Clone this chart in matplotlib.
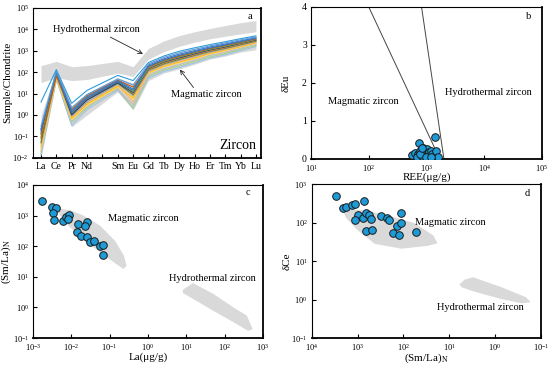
import numpy as np
import matplotlib
matplotlib.use("Agg")
import matplotlib.pyplot as plt

plt.rcParams["font.family"] = ["Liberation Serif", "DejaVu Serif"]
plt.rcParams["mathtext.fontset"] = "stix"

# ---- panel a: chondrite-normalised REE patterns ----
ree = ["La", "Ce", "Pr", "Nd", "", "Sm", "Eu", "Gd", "Tb", "Dy", "Ho", "Er", "Tm", "Yb", "Lu"]
ree_pos = [0, 1, 2, 3, 5, 6, 7, 8, 9, 10, 11, 12, 13, 14]

s01 = [4.0, 130, 3.5, 14, 70, 40, 280, 560, 930, 1350, 1900, 2600, 3600, 4900]
s11 = [0.3, 110, 2.2, 9.0, 48, 25, 240, 480, 790, 1150, 1650, 2290, 3160, 4370]
s02 = [0.22, 100, 1.6, 7.0, 40, 16, 210, 420, 680, 1000, 1480, 2040, 2880, 3980]
s15 = [0.2, 95, 1.3, 6.0, 36, 14, 186, 370, 600, 890, 1320, 1860, 2630, 3720]
s08 = [0.08, 63, 1.8, 8.0, 42, 20, 170, 345, 550, 830, 1230, 1740, 2450, 3470]
s06 = [0.10, 80, 1.4, 6.3, 38, 12.5, 155, 316, 510, 780, 1150, 1620, 2290, 3310]
s07 = [0.13, 90, 1.0, 5.0, 32, 11, 145, 295, 460, 710, 1070, 1480, 2190, 3090]
s03 = [0.16, 80, 1.25, 5.5, 35, 10, 132, 270, 430, 650, 1000, 1380, 2040, 2950]
s13 = [0.05, 75, 1.1, 5.0, 30, 9.0, 123, 245, 390, 600, 930, 1290, 1900, 2750]
s04 = [0.06, 70, 0.9, 4.0, 28, 8.0, 112, 224, 355, 550, 850, 1200, 1780, 2630]
s12 = [0.03, 60, 0.8, 3.8, 25, 4.0, 102, 209, 324, 500, 795, 1120, 1660, 2450]
s05 = [0.04, 56, 0.7, 3.2, 22, 6.3, 95, 190, 295, 457, 740, 1050, 1550, 2340]
s14 = [0.025, 52, 0.6, 2.8, 20, 5.0, 87, 174, 270, 417, 690, 980, 1480, 2190]
s16 = [0.02, 55, 0.55, 2.5, 16, 3.0, 74, 148, 224, 363, 600, 830, 1290, 1950]
s10 = [0.016, 50, 0.45, 2.2, 18, 2.0, 62, 126, 190, 309, 513, 724, 1150, 1740]
s09 = [0.013, 45, 0.32, 1.8, 14, 2.2, 52, 107, 160, 263, 450, 630, 1000, 1550]
samples = [s09, s10, s16, s14, s05, s12, s04, s13, s03, s07, s06, s08, s15, s02, s11, s01]
sample_colors = ["#9DC3E6", "#A9D18E", "#BDBDBD", "#FFD966", "#FFC000", "#F4B183",
                 "#A5A5A5", "#548235", "#ED7D31", "#264478", "#70AD47", "#C55A11",
                 "#2E75B6", "#4472C4", "#5B9BD5", "#2E9BDA"]

hydro_top = [200, 316, 178, 200, 316, 178, 1260, 2820, 5000, 7600, 10700, 14800, 20000, 25000]
hydro_bot = [32, 56, 40, 45, 89, 63, 400, 890, 1580, 2500, 3550, 4680, 6000, 7600]
magma_top = [1.0, 120, 2.5, 10, 55, 30, 220, 450, 750, 1100, 1600, 2200, 3000, 4500]
magma_bot = [0.01, 40, 0.28, 1.0, 12, 1.7, 40, 90, 140, 230, 400, 560, 850, 1100]

# ---- panel b: REE vs dEu ----
b_ree = [560, 640, 700, 750, 690, 780, 820, 870, 900, 950, 1000, 1050, 1100,
         1180, 1250, 1380, 1450, 1550, 760, 980, 820, 1200]
b_eu = [0.11, 0.17, 0.14, 0.42, 0.05, 0.22, 0.08, 0.28, 0.15, 0.20, 0.25, 0.10, 0.18,
        0.22, 0.13, 0.58, 0.20, 0.04, 0.12, 0.06, 0.30, 0.06]
b_line1_x = [100, 1700]
b_line2_x = [820, 2000]
b_line_y = [4, 0]

# ---- panel c: La vs (Sm/La)N ----
c_la = [0.0017, 0.0031, 0.004, 0.0033, 0.0036, 0.0062, 0.0071, 0.0087, 0.0083, 0.015,
        0.0138, 0.0178, 0.026, 0.023, 0.026, 0.031, 0.040, 0.056, 0.068, 0.068]
c_smla = [2950, 1950, 1780, 1180, 720, 650, 910, 1050, 780, 540,
          300, 220, 600, 470, 195, 135, 150, 105, 112, 51]
c_mag_x = [0.0046, 0.0093, 0.0206, 0.056, 0.138, 0.236, 0.276, 0.23, 0.127, 0.05, 0.0206, 0.0083, 0.005]
c_mag_y = [1660, 1510, 1000, 470, 150, 49, 23, 18, 30, 71, 173, 470, 1000]
c_hyd_x = [8.0, 15, 50, 170, 380, 540, 415, 170, 50, 15, 8.3]
c_hyd_y = [3.7, 6.2, 2.8, 1.0, 0.54, 0.195, 0.17, 0.33, 0.78, 1.9, 2.9]

# ---- panel d: (Sm/La)N vs dCe ----
d_smla = [3000, 2070, 1830, 1320, 1150, 730, 1000, 1120, 760, 670, 570, 500,
          650, 480, 310, 233, 205, 115, 138, 110, 166, 126, 54]
d_ce = [500, 240, 260, 290, 300, 370, 160, 120, 135, 183, 160, 122,
        59, 65, 148, 129, 120, 173, 83, 96, 55, 49, 56]
d_mag_x = [2090, 810, 255, 56, 22, 18, 29, 110, 420, 980, 1830]
d_mag_y = [224, 210, 165, 96, 46, 29, 25, 21, 28, 62, 137]
d_hyd_x = [5.9, 4.6, 3.0, 0.72, 0.21, 0.165, 0.26, 0.72, 2.8, 5.4]
d_hyd_y = [2.5, 3.3, 3.8, 2.1, 1.15, 0.85, 0.8, 1.03, 1.6, 2.1]

band = "#d9d9d9"
dot = "#1E9BD7"
fs_tick = 6
fs_lab = 8
fs_txt = 7.5


def style(ax):
    ax.tick_params(direction="in", length=3, width=0.8, labelsize=fs_tick, pad=3,
                   top=False, right=False)
    ax.minorticks_off()
    for s in ax.spines.values():
        s.set_linewidth(0.8)
    ax.spines["right"].set_linewidth(1.3)
    ax.spines["bottom"].set_linewidth(1.3)


fig = plt.figure(figsize=(5.5, 3.68), dpi=100)
axa = fig.add_axes([0.06, 0.571, 0.4145, 0.408])
axb = fig.add_axes([0.5655, 0.568, 0.42, 0.413])
axc = fig.add_axes([0.06, 0.0815, 0.418, 0.416])
axd = fig.add_axes([0.567, 0.0815, 0.416, 0.418])

# a
axa.fill_between(ree_pos, hydro_bot, hydro_top, color=band, lw=0)
axa.fill_between(ree_pos, magma_bot, magma_top, color=band, lw=0)
for vals, col in zip(samples, sample_colors):
    axa.plot(ree_pos, vals, color=col, lw=0.8)
axa.set_yscale("log")
axa.set_ylim(1e-2, 1e5)
axa.set_xlim(-0.52, 14.33)
axa.set_xticks(range(15))
axa.set_xticklabels(ree)
axa.set_ylabel("Sample/Chondrite", fontsize=fs_lab)
axa.yaxis.set_label_coords(-0.09, 0.5)
axa.annotate("Hydrothermal zircon", xy=(6.64, 700), xytext=(0.78, 9300),
             fontsize=fs_txt, va="center",
             arrowprops=dict(arrowstyle="->", color="#222222", lw=0.6,
                             shrinkA=0, shrinkB=0, relpos=(0.6, 0.0)))
axa.annotate("Magmatic zircon", xy=(9.05, 130), xytext=(8.46, 8.7),
             fontsize=fs_txt, va="center",
             arrowprops=dict(arrowstyle="->", color="#222222", lw=0.6,
                             shrinkA=0, shrinkB=0, relpos=(0.35, 1.0)))
axa.text(12.8, 0.036, "Zircon", fontsize=10, ha="center", va="center")
axa.text(0.95, 0.94, "a", transform=axa.transAxes, fontsize=fs_txt, ha="center", va="center")
style(axa)
axa.tick_params(axis="x", labelsize=7)

# b
axb.plot(b_line1_x, b_line_y, color="#444444", lw=0.7)
axb.plot(b_line2_x, b_line_y, color="#444444", lw=0.7)
axb.scatter(b_ree, b_eu, s=30, color=dot, edgecolor="#1a1a1a", lw=0.7, zorder=3)
axb.set_xscale("log")
axb.set_xlim(10, 1e5)
axb.set_ylim(0, 4)
axb.set_yticks([0, 1, 2, 3, 4])
axb.set_xlabel("REE(μg/g)", fontsize=fs_lab)
axb.set_ylabel("δEu", fontsize=fs_lab)
axb.xaxis.set_label_coords(0.5, -0.09)
axb.yaxis.set_label_coords(-0.087, 0.5)
axb.text(19.5, 1.5, "Magmatic zircon", fontsize=fs_txt, va="center")
axb.text(2100, 1.74, "Hydrothermal zircon", fontsize=fs_txt, va="center")
axb.text(0.94, 0.94, "b", transform=axb.transAxes, fontsize=fs_txt, ha="center", va="center")
style(axb)
axb.tick_params(axis="y", labelsize=7)

# c
axc.fill(c_mag_x, c_mag_y, color=band, lw=0)
axc.fill(c_hyd_x, c_hyd_y, color=band, lw=0)
axc.scatter(c_la, c_smla, s=30, color=dot, edgecolor="#1a1a1a", lw=0.7, zorder=3)
axc.set_xscale("log")
axc.set_yscale("log")
axc.set_xlim(1e-3, 1e3)
axc.set_ylim(1e-1, 1e4)
axc.set_xlabel("La(μg/g)", fontsize=fs_lab)
axc.set_ylabel("(Sm/La)$_\\mathrm{N}$", fontsize=fs_lab)
axc.xaxis.set_label_coords(0.5, -0.095)
axc.yaxis.set_label_coords(-0.087, 0.5)
axc.text(0.091, 780, "Magmatic zircon", fontsize=fs_txt, va="center")
axc.text(3.6, 9.1, "Hydrothermal zircon", fontsize=fs_txt, va="center")
axc.text(0.935, 0.95, "c", transform=axc.transAxes, fontsize=fs_txt, ha="center", va="center")
style(axc)

# d
axd.fill(d_mag_x, d_mag_y, color=band, lw=0)
axd.fill(d_hyd_x, d_hyd_y, color=band, lw=0)
axd.scatter(d_smla, d_ce, s=30, color=dot, edgecolor="#1a1a1a", lw=0.7, zorder=3)
axd.set_xscale("log")
axd.set_yscale("log")
axd.set_xlim(1e4, 1e-1)
axd.set_ylim(1e-1, 1e3)
axd.set_xlabel("(Sm/La)$_\\mathrm{N}$", fontsize=fs_lab)
axd.set_ylabel("δCe", fontsize=fs_lab)
axd.xaxis.set_label_coords(0.5, -0.085)
axd.yaxis.set_label_coords(-0.087, 0.5)
axd.text(56, 102, "Magmatic zircon", fontsize=fs_txt, va="center")
axd.text(18, 0.64, "Hydrothermal zircon", fontsize=fs_txt, va="center")
axd.text(0.94, 0.94, "d", transform=axd.transAxes, fontsize=fs_txt, ha="center", va="center")
style(axd)

fig.savefig("out.png", dpi=100, facecolor="white")
